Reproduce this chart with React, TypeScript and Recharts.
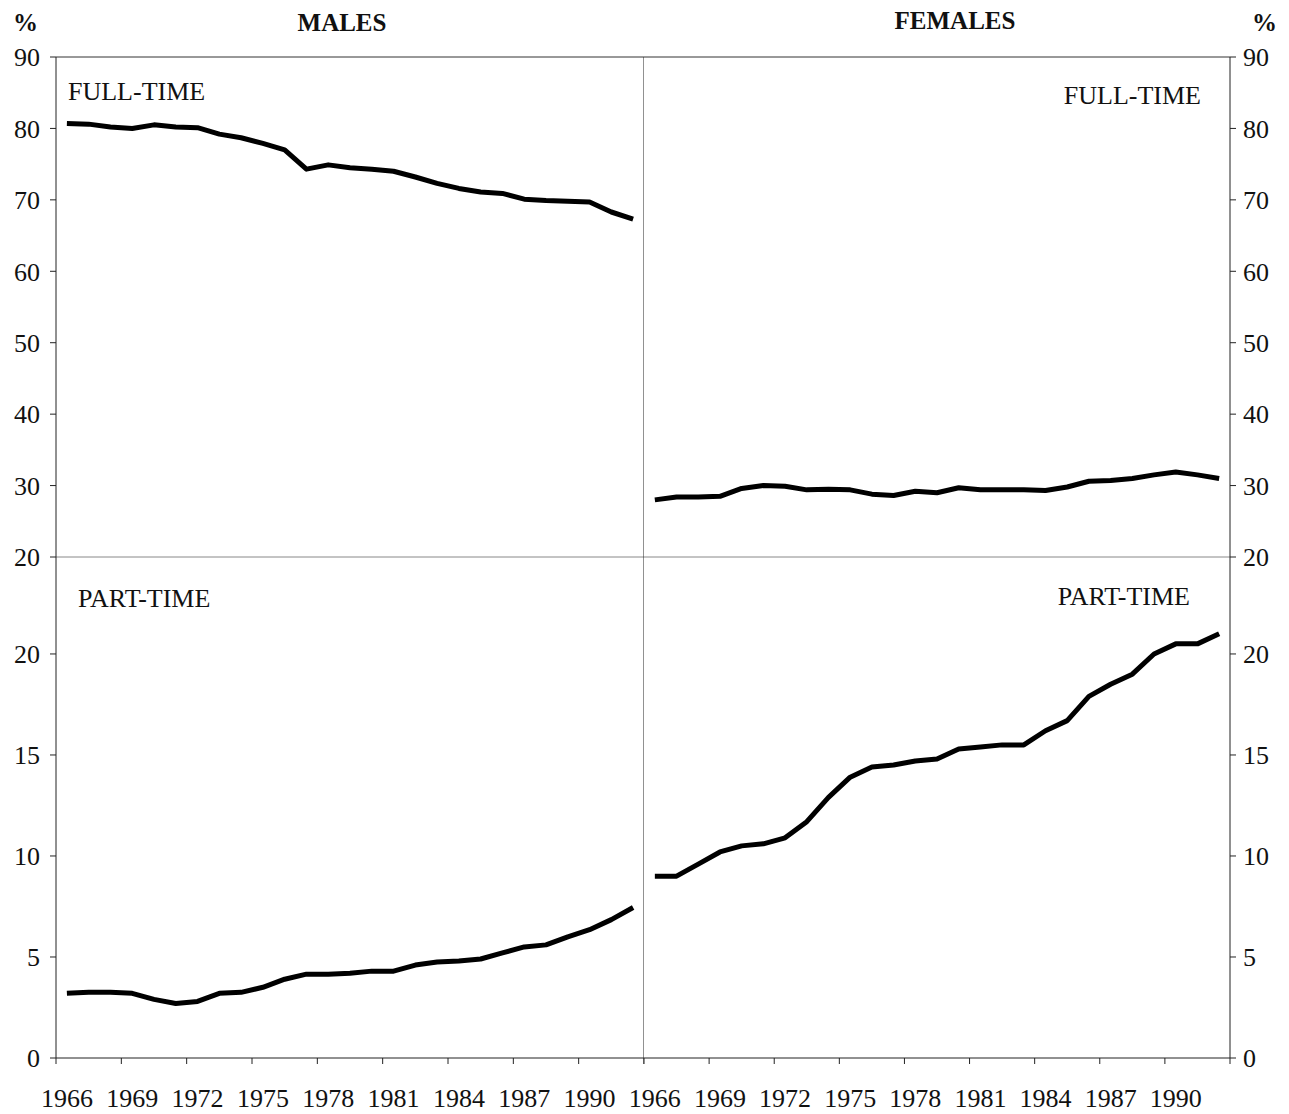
import React from 'react';
import { LineChart, Line, XAxis, YAxis, ReferenceLine } from 'recharts';

// share of population in employment, %, 1966-1992
const years = [
  1966, 1967, 1968, 1969, 1970, 1971, 1972, 1973, 1974, 1975, 1976, 1977, 1978, 1979,
  1980, 1981, 1982, 1983, 1984, 1985, 1986, 1987, 1988, 1989, 1990, 1991, 1992,
];
const maleFullTime = [
  80.7, 80.6, 80.2, 80.0, 80.5, 80.2, 80.1, 79.2, 78.7, 77.9, 77.0, 74.3, 74.9, 74.5,
  74.3, 74.0, 73.2, 72.3, 71.6, 71.1, 70.9, 70.1, 69.9, 69.8, 69.7, 68.3, 67.3,
];
const malePartTime = [
  3.2, 3.25, 3.25, 3.2, 2.9, 2.7, 2.8, 3.2, 3.25, 3.5, 3.9, 4.15, 4.15, 4.2,
  4.3, 4.3, 4.6, 4.75, 4.8, 4.9, 5.2, 5.5, 5.6, 6.0, 6.35, 6.85, 7.45,
];
const femaleFullTime = [
  28.0, 28.4, 28.4, 28.5, 29.6, 30.0, 29.9, 29.4, 29.5, 29.4, 28.8, 28.6, 29.2, 29.0,
  29.7, 29.4, 29.4, 29.4, 29.3, 29.8, 30.6, 30.7, 31.0, 31.5, 31.9, 31.5, 31.0,
];
const femalePartTime = [
  9.0, 9.0, 9.6, 10.2, 10.5, 10.6, 10.9, 11.7, 12.9, 13.9, 14.4, 14.5, 14.7, 14.8,
  15.3, 15.4, 15.5, 15.5, 16.2, 16.7, 17.9, 18.5, 19.0, 20.0, 20.5, 20.5, 21.0,
];
const yearLabels = [1966, 1969, 1972, 1975, 1978, 1981, 1984, 1987, 1990];
const topTicks = [20, 30, 40, 50, 60, 70, 80, 90];
const bottomTicks = [0, 5, 10, 15, 20];

const FONT = '"Liberation Serif", "Times New Roman", serif';
const X_DOMAIN: [number, number] = [years[0] - 0.5, years[years.length - 1] + 0.5];
const X_TICKS = yearLabels.map((y) => y - 0.5).concat(X_DOMAIN[1]);

const rows = (values: number[]) => years.map((year, i) => ({ year, value: values[i] }));

const tickStyle = { fontSize: 26, fontFamily: FONT, fill: '#111' };

const YearTick = (props: any) => {
  const { x, y, payload, half } = props;
  const year = payload.value + 0.5;
  if (!yearLabels.includes(year)) return <g />;
  return (
    <text x={x + half} y={y} dy="0.71em" textAnchor="middle" {...tickStyle}>
      {year}
    </text>
  );
};

type PanelProps = {
  values: number[];
  side: 'left' | 'right';
  row: 'top' | 'bottom';
};

const Panel = ({ values, side, row }: PanelProps) => {
  const isTop = row === 'top';
  const isLeft = side === 'left';
  // right-hand charts start 44px early so the first year label is not clipped
  const left = isLeft ? 0 : 600;
  const width = isLeft ? 644 : 689;
  const height = isTop ? 575 : 557;
  const plotWidth = isLeft ? 588 : 586;
  const domain: [number, number] = isTop ? [20, 90] : [0, 24.8];

  return (
    <div style={{ position: 'absolute', left, top: isTop ? 0 : 557 }}>
      <LineChart
        width={width}
        height={height}
        data={rows(values)}
        margin={{ top: isTop ? 57 : 0, right: 0, bottom: isTop ? 18 : 0, left: isLeft ? 0 : 44 }}
      >
        <XAxis
          dataKey="year"
          type="number"
          domain={X_DOMAIN}
          ticks={X_TICKS}
          interval={0}
          hide={isTop}
          height={56}
          tickSize={6}
          tickMargin={25}
          stroke="#222"
          tick={(p: any) => <YearTick {...p} half={plotWidth / years.length / 2} />}
        />
        <YAxis
          orientation={side}
          domain={domain}
          ticks={isTop ? topTicks : bottomTicks}
          interval={0}
          allowDataOverflow
          width={isLeft ? 56 : 59}
          tickSize={6}
          tickMargin={isLeft ? 10 : 7}
          stroke="#222"
          tick={tickStyle}
        />
        {isTop && <ReferenceLine y={90} stroke="#333" strokeWidth={1} />}
        {isTop && <ReferenceLine y={20} stroke="#888" strokeWidth={1} />}
        {isLeft && <ReferenceLine x={X_DOMAIN[1]} stroke="#222" strokeWidth={1} />}
        <Line
          type="linear"
          dataKey="value"
          stroke="#000"
          strokeWidth={5}
          strokeLinejoin="round"
          dot={false}
          isAnimationActive={false}
        />
      </LineChart>
    </div>
  );
};

export default function App() {
  return (
    <div
      style={{
        position: 'absolute',
        left: 0,
        top: 0,
        width: 1289,
        height: 1114,
        background: '#fff',
        fontFamily: FONT,
      }}
    >
      <Panel values={maleFullTime} side="left" row="top" />
      <Panel values={femaleFullTime} side="right" row="top" />
      <Panel values={malePartTime} side="left" row="bottom" />
      <Panel values={femalePartTime} side="right" row="bottom" />
      <svg
        width={1289}
        height={1114}
        style={{ position: 'absolute', left: 0, top: 0, pointerEvents: 'none' }}
      >
        <g fontFamily={FONT} fill="#111">
          <text x={13} y={31} fontSize={25} fontWeight="bold">%</text>
          <text x={342} y={31} fontSize={25} fontWeight="bold" textAnchor="middle">MALES</text>
          <text x={955} y={29} fontSize={25} fontWeight="bold" textAnchor="middle">FEMALES</text>
          <text x={1252} y={31} fontSize={25} fontWeight="bold">%</text>
          <text x={68} y={100} fontSize={26}>FULL-TIME</text>
          <text x={1201} y={104} fontSize={26} textAnchor="end">FULL-TIME</text>
          <text x={78} y={607} fontSize={26}>PART-TIME</text>
          <text x={1190} y={605} fontSize={26} textAnchor="end">PART-TIME</text>
        </g>
      </svg>
    </div>
  );
}
